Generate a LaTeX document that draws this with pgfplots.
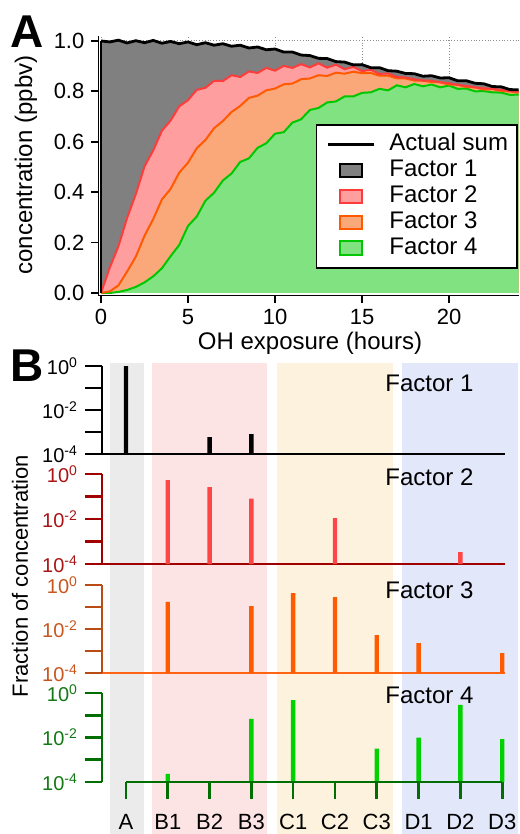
\documentclass[border=0pt]{standalone}
\usepackage{fontspec}
\setmainfont{Liberation Sans}
\usepackage{pgfplots}
\usepackage{pgfplotstable}
\pgfplotsset{compat=1.18}

\definecolor{f1fill}{RGB}{128,128,128}
\definecolor{f2fill}{RGB}{255,158,158}
\definecolor{f2line}{RGB}{255,60,60}
\definecolor{f3fill}{RGB}{250,168,122}
\definecolor{f3line}{RGB}{255,90,0}
\definecolor{f4fill}{RGB}{128,226,128}
\definecolor{f4line}{RGB}{0,200,0}
\definecolor{bgA}{RGB}{235,235,235}
\definecolor{bgB}{RGB}{253,228,228}
\definecolor{bgC}{RGB}{253,242,222}
\definecolor{bgD}{RGB}{226,231,250}
\definecolor{ax2}{RGB}{160,0,0}
\definecolor{lab2}{RGB}{170,20,20}
\definecolor{bar2}{RGB}{255,70,70}
\definecolor{ax3}{RGB}{185,75,20}
\definecolor{lab3}{RGB}{200,85,30}
\definecolor{line3}{RGB}{255,100,20}
\definecolor{bar3}{RGB}{255,90,0}
\definecolor{ax4}{RGB}{0,110,0}
\definecolor{lab4}{RGB}{20,120,20}
\definecolor{bar4}{RGB}{0,210,0}

\pgfplotstableread{
x S R O G
0.0 1.000 0.000 0.000 0.000
0.5 0.996 0.100 0.006 0.000
1.0 1.003 0.185 0.030 0.004
1.5 0.992 0.298 0.085 0.012
2.0 1.001 0.392 0.144 0.024
2.5 0.993 0.502 0.227 0.042
3.0 1.002 0.566 0.293 0.066
3.5 0.991 0.644 0.371 0.098
4.0 0.998 0.684 0.413 0.146
4.5 0.989 0.741 0.478 0.191
5.0 0.996 0.765 0.517 0.266
5.5 0.985 0.806 0.574 0.303
6.0 0.993 0.814 0.607 0.366
6.5 0.983 0.842 0.654 0.398
7.0 0.989 0.841 0.682 0.446
7.5 0.979 0.864 0.718 0.474
8.0 0.983 0.857 0.742 0.520
8.5 0.972 0.879 0.774 0.534
9.0 0.976 0.873 0.783 0.576
9.5 0.965 0.893 0.804 0.594
10.0 0.968 0.882 0.811 0.632
10.5 0.956 0.901 0.828 0.638
11.0 0.956 0.893 0.831 0.676
11.5 0.944 0.908 0.848 0.689
12.0 0.942 0.895 0.851 0.726
12.5 0.931 0.911 0.864 0.734
13.0 0.930 0.894 0.861 0.756
13.5 0.918 0.906 0.874 0.760
14.0 0.916 0.888 0.870 0.780
14.5 0.905 0.897 0.878 0.780
15.0 0.906 0.880 0.872 0.794
15.5 0.894 0.886 0.873 0.796
16.0 0.894 0.869 0.862 0.810
16.5 0.882 0.871 0.862 0.804
17.0 0.880 0.857 0.852 0.824
17.5 0.871 0.855 0.851 0.816
18.0 0.870 0.848 0.843 0.829
18.5 0.860 0.843 0.842 0.820
19.0 0.862 0.842 0.837 0.827
19.5 0.853 0.836 0.836 0.816
20.0 0.854 0.832 0.827 0.823
20.5 0.842 0.826 0.826 0.810
21.0 0.842 0.822 0.817 0.811
21.5 0.832 0.816 0.816 0.800
22.0 0.830 0.812 0.807 0.801
22.5 0.819 0.810 0.809 0.796
23.0 0.818 0.806 0.801 0.795
23.5 0.807 0.801 0.800 0.786
24.0 0.806 0.799 0.795 0.787
}\topdata

\begin{document}
\begin{tikzpicture}
\useasboundingbox (0,0) rectangle (259.5pt,-417pt);

% ---------------- Panel A ----------------
\begin{axis}[
  at={(49.2pt,-147.75pt)}, anchor=south west,
  scale only axis, width=210.1pt, height=129.8pt,
  xmin=-0.15, xmax=24, ymin=-0.01, ymax=1.02,
  axis x line*=bottom, axis y line*=left,
  axis line style={line width=0.9pt, -},
  xtick={0,5,10,15,20}, ytick={0,0.2,0.4,0.6,0.8,1.0},
  yticklabel style={/pgf/number format/.cd, fixed, fixed zerofill, precision=1},
  /pgf/number format/assume math mode=true,
  tick label style={font=\fontsize{11}{13}\selectfont},
  tick align=outside, major tick length=3.5pt,
  tick style={line width=0.9pt, black},
  grid=major, grid style={densely dotted, black!45, line width=0.5pt},
  legend style={at={(0.517,0.661)}, anchor=north west, draw=black, line width=0.9pt,
    fill=white, font=\fontsize{12}{13}\selectfont, inner xsep=3.5pt, inner ysep=3.5pt,
    row sep=0pt, column sep=4pt,
    nodes={inner xsep=1pt, inner ysep=0.75pt, text height=8.8pt, text depth=2.6pt}},
  legend cell align=left,
]
\addlegendimage{legend image code/.code={\path (0pt,0pt); \draw[black,line width=1.3pt] (2pt,0pt) -- (25pt,0pt);}}
\addlegendentry{Actual sum}
\addlegendimage{legend image code/.code={\path (0pt,0pt) (27pt,0pt); \draw[fill=f1fill,draw=black,line width=1pt] (8pt,-3.3pt) rectangle (19pt,3.3pt);}}
\addlegendentry{Factor 1}
\addlegendimage{legend image code/.code={\path (0pt,0pt) (27pt,0pt); \draw[fill=f2fill,draw=f2line,line width=1pt] (8pt,-3.3pt) rectangle (19pt,3.3pt);}}
\addlegendentry{Factor 2}
\addlegendimage{legend image code/.code={\path (0pt,0pt) (27pt,0pt); \draw[fill=f3fill,draw=f3line,line width=1pt] (8pt,-3.3pt) rectangle (19pt,3.3pt);}}
\addlegendentry{Factor 3}
\addlegendimage{legend image code/.code={\path (0pt,0pt) (27pt,0pt); \draw[fill=f4fill,draw=f4line,line width=1pt] (8pt,-3.3pt) rectangle (19pt,3.3pt);}}
\addlegendentry{Factor 4}

\addplot[fill=f1fill, draw=none, forget plot] table[x=x,y=S]{\topdata} \closedcycle;
\addplot[fill=f2fill, draw=none, forget plot] table[x=x,y=R]{\topdata} \closedcycle;
\addplot[fill=f3fill, draw=none, forget plot] table[x=x,y=O]{\topdata} \closedcycle;
\addplot[fill=f4fill, draw=none, forget plot] table[x=x,y=G]{\topdata} \closedcycle;
\addplot[f4line, line width=1pt, forget plot] table[x=x,y=G]{\topdata};
\addplot[f3line, line width=1pt, forget plot] table[x=x,y=O]{\topdata};
\addplot[f2line, line width=1pt, forget plot] table[x=x,y=R]{\topdata};
\addplot[black, line width=1pt, forget plot] coordinates {(0,0) (0,1.0)};
\addplot[black, line width=1.4pt, forget plot] table[x=x,y=S]{\topdata};
\end{axis}

\node[font=\bfseries\fontsize{23}{23}\selectfont] at (13.75pt,-16pt) {A};
\node[rotate=90, font=\fontsize{12}{14}\selectfont] at (13pt,-82.5pt) {concentration (ppbv)};
\node[font=\fontsize{12}{14}\selectfont] at (155pt,-171.5pt) {OH exposure (hours)};

% ---------------- Panel B background ----------------
\begin{axis}[
  at={(51pt,-417pt)}, anchor=south west,
  scale only axis, width=208.04pt, height=235.5pt,
  xmin=-0.574, xmax=9.38, ymin=0, ymax=1,
  hide axis, clip=false,
]
\addplot[fill=bgA, draw=none] coordinates {(-0.38,1) (0.43,1)} \closedcycle;
\addplot[fill=bgB, draw=none] coordinates {(0.62,1) (3.37,1)} \closedcycle;
\addplot[fill=bgC, draw=none] coordinates {(3.61,1) (6.39,1)} \closedcycle;
\addplot[fill=bgD, draw=none] coordinates {(6.60,1) (9.38,1)} \closedcycle;
\end{axis}

\node[font=\bfseries\fontsize{23}{23}\selectfont] at (13.5pt,-183pt) {B};
\node[rotate=90, font=\fontsize{11}{13}\selectfont] at (10pt,-288pt) {Fraction of concentration};

% Factor 1
\begin{axis}[
  at={(51pt,-227pt)}, anchor=south west, height=44pt,
  scale only axis, width=201.35pt,
  xmin=-0.574, xmax=9.06,
  ymode=log, ymin=1e-4, ymax=1, log origin=infty,
  axis x line*=bottom, axis y line*=left,
  ytick={1e-4,1e-3,1e-2,1e-1,1},
  yticklabels={10\textsuperscript{-4},,10\textsuperscript{-2},,10\textsuperscript{0}},
  yminorticks=false, xtick=\empty,
  tick align=outside, major tick length=8.5pt,
  clip=false,
  yticklabel style={font=\fontsize{10}{12}\selectfont},
  x axis line style={black, line width=1.3pt, -},
  y axis line style={black, line width=1.3pt, -},
  ytick style={black, line width=1.3pt},
]
\addplot[ybar, bar width=2.2pt, bar shift=0pt, fill=black, draw=none] coordinates {(0,1.0) (2,5.9e-4) (3,8e-4)};
\end{axis}
\node[anchor=base west, inner sep=0pt, font=\fontsize{12}{13}\selectfont] at (192.5pt,-195.5pt) {Factor 1};

% Factor 2
\begin{axis}[
  at={(51pt,-282pt)}, anchor=south west, height=45pt,
  scale only axis, width=201.35pt,
  xmin=-0.574, xmax=9.06,
  ymode=log, ymin=1e-4, ymax=1, log origin=infty,
  axis x line*=bottom, axis y line*=left,
  ytick={1e-4,1e-3,1e-2,1e-1,1},
  yticklabels={10\textsuperscript{-4},,10\textsuperscript{-2},,10\textsuperscript{0}},
  yminorticks=false, xtick=\empty,
  tick align=outside, major tick length=8.5pt,
  clip=false,
  yticklabel style={font=\fontsize{10}{12}\selectfont, text=lab2},
  x axis line style={ax2, line width=1.3pt, -},
  y axis line style={ax2, line width=1.3pt, -},
  ytick style={ax2, line width=1.3pt},
]
\addplot[ybar, bar width=2.2pt, bar shift=0pt, fill=bar2, draw=none] coordinates {(1,0.54) (2,0.26) (3,0.08) (5,0.011) (8,3.4e-4)};
\end{axis}
\node[anchor=base west, inner sep=0pt, font=\fontsize{12}{13}\selectfont] at (192.5pt,-242.5pt) {Factor 2};

% Factor 3
\begin{axis}[
  at={(51pt,-336.5pt)}, anchor=south west, height=44pt,
  scale only axis, width=201.35pt,
  xmin=-0.574, xmax=9.06,
  ymode=log, ymin=1e-4, ymax=1, log origin=infty,
  axis x line*=bottom, axis y line*=left,
  ytick={1e-4,1e-3,1e-2,1e-1,1},
  yticklabels={10\textsuperscript{-4},,10\textsuperscript{-2},,10\textsuperscript{0}},
  yminorticks=false, xtick=\empty,
  tick align=outside, major tick length=8.5pt,
  clip=false,
  yticklabel style={font=\fontsize{10}{12}\selectfont, text=lab3},
  x axis line style={line3, line width=1.1pt, -},
  y axis line style={ax3, line width=1.3pt, -},
  ytick style={ax3, line width=1.3pt},
]
\addplot[ybar, bar width=2.2pt, bar shift=0pt, fill=bar3, draw=none] coordinates {(1,0.17) (3,0.11) (4,0.43) (5,0.28) (6,5.3e-3) (7,2.3e-3) (9,8e-4)};
\end{axis}
\node[anchor=base west, inner sep=0pt, font=\fontsize{12}{13}\selectfont] at (192.5pt,-299pt) {Factor 3};

% Factor 4
\begin{axis}[
  at={(51pt,-391pt)}, anchor=south west, height=44.5pt,
  scale only axis, width=201.35pt,
  xmin=-0.574, xmax=9.06,
  ymode=log, ymin=1e-4, ymax=1, log origin=infty,
  axis x line*=bottom, axis y line*=left,
  ytick={1e-4,1e-3,1e-2,1e-1,1},
  yticklabels={10\textsuperscript{-4},,10\textsuperscript{-2},,10\textsuperscript{0}},
  yminorticks=false,
  tick align=outside, major tick length=8.5pt,
  clip=false,
  yticklabel style={font=\fontsize{10}{12}\selectfont, text=lab4},
  x axis line style={draw=none},
  y axis line style={ax4, line width=1.3pt, -},
  ytick style={ax4, line width=1.3pt},
  xtick={0,1,2,3,4,5,6,7,8,9},
  xticklabels={A,B1,B2,B3,C1,C2,C3,D1,D2,D3},
  xtick style={ax4, line width=1.3pt},
  xticklabel style={font=\fontsize{11}{13}\selectfont, text=black, yshift=-4pt},
]
\addplot[ybar, bar width=2.2pt, bar shift=0pt, fill=bar4, draw=none] coordinates {(1,2.3e-4) (3,0.068) (4,0.48) (6,3.2e-3) (7,0.01) (8,0.29) (9,8.5e-3)};
\draw[ax4, line width=1.3pt] (axis cs:0,1e-4) -- (axis cs:9,1e-4);
\end{axis}
\node[anchor=base west, inner sep=0pt, font=\fontsize{12}{13}\selectfont] at (192.5pt,-351.5pt) {Factor 4};

\end{tikzpicture}
\end{document}
